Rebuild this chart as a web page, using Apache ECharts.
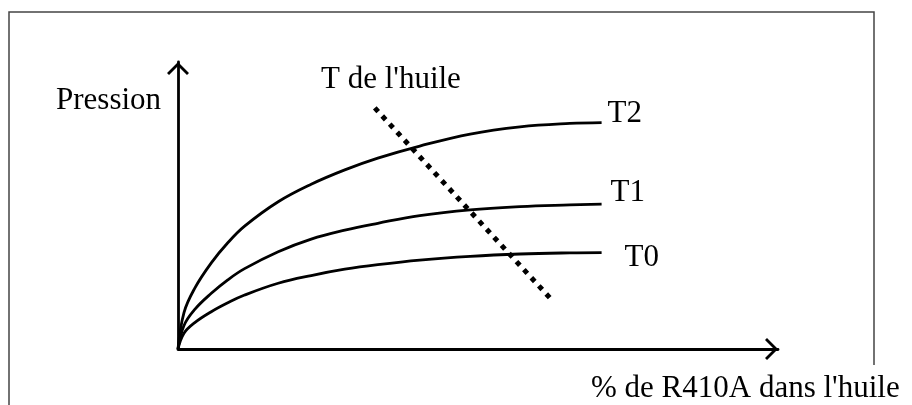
<!DOCTYPE html>
<html>
<head>
<meta charset="utf-8">
<script src="https://cdn.jsdelivr.net/npm/echarts@6/dist/echarts.min.js"></script>
<style>
  html, body { margin: 0; padding: 0; background: #fff; }
  #chart { width: 912px; height: 405px; }
</style>
</head>
<body>
<div id="chart"></div>
<script>
var pctR410A = [0, 1, 2.8, 5.55, 8.3, 11.1, 16.7, 22.2, 27.8, 33.3, 40.3, 48.7, 57.0, 65.3, 70.6];
var pressionT2 = [0, 12.7, 21.2, 30.0, 37.0, 42.8, 51.3, 57.4, 62.4, 66.5, 70.7, 74.9, 77.4, 78.6, 78.9];
var pressionT1 = [0, 8.2, 13.8, 19.4, 24.1, 28.0, 33.9, 38.3, 41.4, 43.8, 46.5, 48.5, 49.6, 50.2, 50.5];
var pressionT0 = [0, 5.5, 9.2, 13.0, 16.1, 18.8, 22.9, 25.6, 27.8, 29.4, 31.0, 32.3, 33.1, 33.5, 33.6];
var courbes = ['T2', 'T1', 'T0'];
// droite "T de l'huile"
var huileX = [32.8, 62.3];
var huileY = [84, 17.1];

var serif = '"Liberation Serif", "Times New Roman", serif';

function paires(xs, ys) {
  return xs.map(function (x, i) { return [x, ys[i]]; });
}

var chart = echarts.init(document.getElementById('chart'), null, { renderer: 'canvas' });

// flèche ouverte au bout des axes
var fleche = 'path://M11,0 L22,11 L20,13 L11,4 L2,13 L0,11 Z';

function axe() {
  return {
    type: 'value',
    min: 0,
    max: 100,
    axisLine: {
      show: true,
      symbol: ['none', fleche],
      symbolSize: [22, 13],
      symbolOffset: [0, -6.5],
      lineStyle: { color: '#000', width: 2.8 }
    },
    axisTick: { show: false },
    axisLabel: { show: false },
    splitLine: { show: false }
  };
}

var decalages = { T2: [6, -9], T1: [9, -11], T0: [23, 5] };

function courbe(nom, ys) {
  return {
    name: nom,
    type: 'line',
    data: paires(pctR410A, ys),
    smooth: 0.4,
    showSymbol: false,
    lineStyle: { color: '#000', width: 2.8 },
    endLabel: {
      show: true,
      formatter: nom,
      distance: 0,
      offset: decalages[nom],
      color: '#000',
      fontFamily: serif,
      fontSize: 31
    }
  };
}

var option = {
  animation: false,
  backgroundColor: '#fff',
  grid: { left: 178, right: 134, top: 62, bottom: 56, containLabel: false },
  xAxis: axe(),
  yAxis: axe(),
  series: [
    courbe(courbes[0], pressionT2),
    courbe(courbes[1], pressionT1),
    courbe(courbes[2], pressionT0),
    {
      name: "T de l'huile",
      type: 'line',
      data: paires(huileX, huileY),
      showSymbol: false,
      lineStyle: { color: '#000', width: 5, type: [5, 6], cap: 'butt' }
    }
  ],
  graphic: [
    // cadre
    {
      type: 'polyline',
      shape: { points: [[9, 405], [9, 12], [874, 12], [874, 365]] },
      style: { stroke: '#444', lineWidth: 1.5, fill: null }
    },
    {
      type: 'text',
      style: { text: 'Pression', x: 56, y: 101, font: '31px ' + serif, fill: '#000', verticalAlign: 'middle' }
    },
    {
      type: 'text',
      style: { text: "T de l'huile", x: 321, y: 80, font: '31px ' + serif, fill: '#000', verticalAlign: 'middle' }
    },
    {
      type: 'text',
      style: { text: "% de R410A dans l'huile", x: 591, y: 389, font: '31px ' + serif, fill: '#000', verticalAlign: 'middle' }
    }
  ]
};

chart.setOption(option);
</script>
</body>
</html>
